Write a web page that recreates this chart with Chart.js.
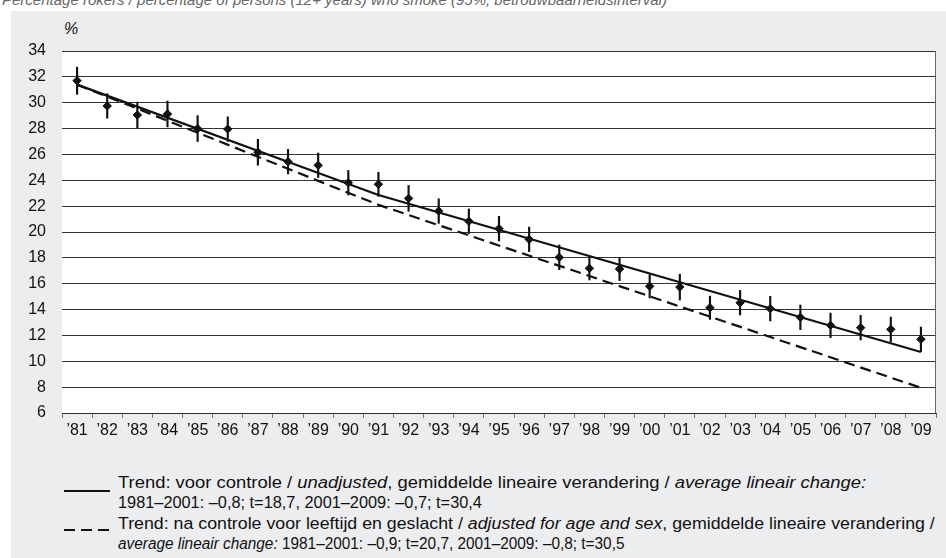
<!DOCTYPE html>
<html>
<head>
<meta charset="utf-8">
<script src="https://cdn.jsdelivr.net/npm/chart.js@4/dist/chart.umd.min.js"></script>
<style>
  body { margin: 0; width: 946px; height: 558px; overflow: hidden; background: #fff; position: relative;
         font-family: "Liberation Sans", Arial, sans-serif; }
  #panel { position: absolute; left: 11px; top: 11px; width: 935px; height: 547px; background: #ecedef; }
  #title { position: absolute; left: 2px; top: -9px; font-size: 15px; font-style: italic; color: #666; white-space: nowrap; }
  #chartBox { position: absolute; left: 0; top: 0; width: 946px; height: 445px; }
  #pct { position: absolute; left: 64px; top: 20px; font-size: 16px; font-style: italic; color: #111; }
  .leg { position: absolute; left: 118px; font-size: 16px; color: #111; white-space: nowrap; transform-origin: 0 0; }
  .leg i { font-style: italic; }
  .sym { position: absolute; left: 64px; width: 46px; height: 0; }
</style>
</head>
<body>
<div id="panel"></div>
<div id="title">Percentage rokers / percentage of persons (12+ years) who smoke (95%, betrouwbaarheidsinterval)</div>
<div id="pct">%</div>
<div id="chartBox"><canvas id="c"></canvas></div>

<div class="sym" style="top:490px;border-top:2px solid #111;"></div>
<div class="leg" style="top:474px;transform:scaleX(1.15);">Trend: voor controle / <i>unadjusted</i>, gemiddelde lineaire verandering / <i>average lineair change:</i></div>
<div class="leg" style="top:494px;transform:scaleX(1.02);">1981–2001: –0,8; t=18,7, 2001–2009: –0,7; t=30,4</div>
<svg class="sym" style="top:529px;height:4px;overflow:visible"><line x1="0" y1="1" x2="46" y2="1" stroke="#111" stroke-width="2" stroke-dasharray="11,6"/></svg>
<div class="leg" style="top:515px;transform:scaleX(1.11);">Trend: na controle voor leeftijd en geslacht / <i>adjusted for age and sex</i>, gemiddelde lineaire verandering /</div>
<div class="leg" style="top:535px;transform:scaleX(0.96);"><i>average lineair change:</i> 1981–2001: –0,9; t=20,7, 2001–2009: –0,8; t=30,5</div>

<script>
const years = ["’81","’82","’83","’84","’85","’86","’87","’88","’89","’90",
               "’91","’92","’93","’94","’95","’96","’97","’98","’99","’00",
               "’01","’02","’03","’04","’05","’06","’07","’08","’09"];
const pct = [31.7, 29.75, 29.05, 29.13, 28.0, 27.96, 26.17, 25.44, 25.16, 23.81,
             23.69, 22.6, 21.62, 20.83, 20.26, 19.43, 18.04, 17.19, 17.14, 15.8,
             15.74, 14.14, 14.53, 14.07, 13.4, 12.78, 12.6, 12.47, 11.7];
const errHalf = [1.05, 0.95, 1.0, 1.0, 1.0, 0.95, 1.0, 0.95, 0.95, 0.95,
                 0.93, 1.0, 0.95, 0.95, 0.95, 0.95, 0.95, 0.9, 0.9, 0.9,
                 1.0, 0.9, 0.95, 0.95, 0.95, 0.95, 0.95, 0.95, 0.95];
// trendlijnen: alleen knikpunten ('81, '91, '09)
const trendUnadj = [31.4, null, null, null, null, null, null, null, null, null,
                    22.86, null, null, null, null, null, null, null, null, null,
                    null, null, null, null, null, null, null, null, 10.72];
const trendAdj = [31.4, null, null, null, null, null, null, null, null, null,
                  22.1, null, null, null, null, null, null, null, null, null,
                  null, null, null, null, null, null, null, null, 7.95];
const yTicks = [6, 8, 10, 12, 14, 16, 18, 20, 22, 24, 26, 28, 30, 32, 34];

const errBars = pct.map((v, i) => [v - errHalf[i], v + errHalf[i]]);

// witte plotachtergrond + rechterrand
const frame = {
  id: "frame",
  beforeDraw(chart) {
    const { ctx, chartArea: a } = chart;
    ctx.save();
    ctx.fillStyle = "#fff";
    ctx.fillRect(a.left, a.top, a.right - a.left, a.bottom - a.top);
    ctx.restore();
  },
  afterDraw(chart) {
    const { ctx, chartArea: a } = chart;
    ctx.save();
    ctx.strokeStyle = "#666";
    ctx.lineWidth = 1;
    ctx.beginPath();
    ctx.moveTo(Math.round(a.right) - 0.5, a.top);
    ctx.lineTo(Math.round(a.right) - 0.5, a.bottom);
    ctx.stroke();
    ctx.restore();
  }
};

new Chart(document.getElementById("c"), {
  type: "bar",
  data: {
    labels: years,
    datasets: [
      {
        type: "line",
        data: pct,
        showLine: false,
        pointStyle: "rectRot",
        pointRadius: 4.2,
        borderWidth: 1,
        borderColor: "#111",
        backgroundColor: "#111",
        order: 0
      },
      {
        type: "bar",
        data: errBars,
        backgroundColor: "#111",
        barThickness: 1.5,
        order: 1
      },
      {
        type: "line",
        data: trendUnadj,
        spanGaps: true,
        borderColor: "#111",
        borderWidth: 2.2,
        pointRadius: 0,
        order: 2
      },
      {
        type: "line",
        data: trendAdj,
        spanGaps: true,
        borderColor: "#111",
        borderWidth: 2.2,
        borderDash: [11, 6],
        pointRadius: 0,
        order: 3
      }
    ]
  },
  options: {
    responsive: true,
    maintainAspectRatio: false,
    animation: false,
    layout: { padding: { left: 0, top: 51, right: 10, bottom: 0 } },
    plugins: { legend: { display: false }, tooltip: { enabled: false } },
    scales: {
      x: {
        offset: true,
        grid: { offset: true, drawOnChartArea: false, color: "#777", tickLength: 5 },
        border: { color: "#333" },
        ticks: { color: "#111", font: { family: "Liberation Sans", size: 16 }, padding: 3, maxRotation: 0, autoSkip: false },
        afterFit(s) { s.height = 32; }
      },
      y: {
        min: 6,
        max: 34,
        afterBuildTicks(s) { s.ticks = yTicks.map(v => ({ value: v })); },
        grid: { color: "#333", drawTicks: false },
        border: { display: false },
        ticks: { color: "#111", font: { family: "Liberation Sans", size: 16 }, padding: 16 },
        afterFit(s) { s.width = 62; }
      }
    }
  },
  plugins: [frame]
});
</script>
</body>
</html>
